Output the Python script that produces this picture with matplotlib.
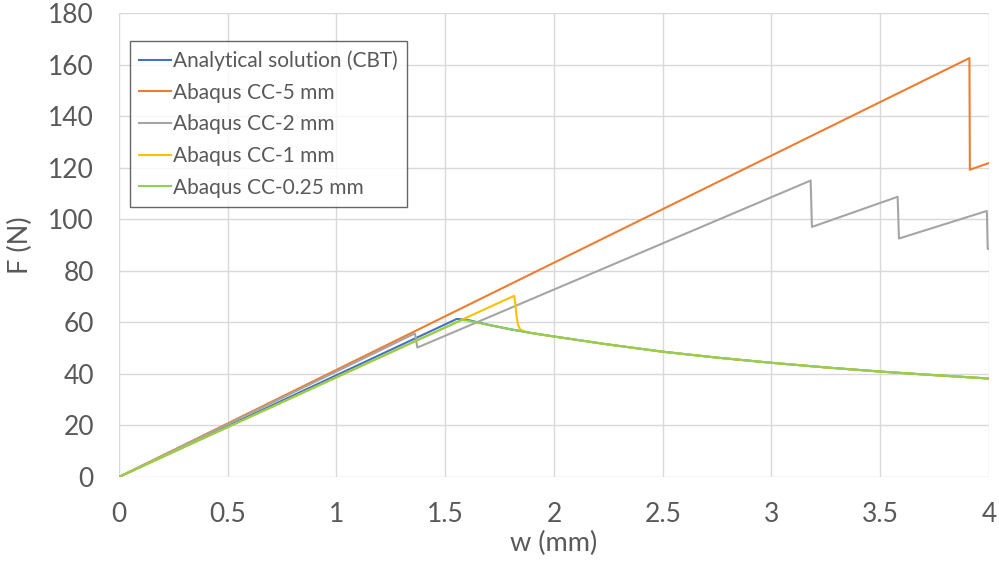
import matplotlib
matplotlib.use("Agg")
import matplotlib.pyplot as plt

plt.rcParams['font.family'] = ['Lato', 'DejaVu Sans']

# softening branch after crack growth
w_soft = [1.6, 1.7, 1.8, 1.9, 2.0, 2.25, 2.5, 2.75, 3.0, 3.25, 3.5, 3.75, 4.0]
F_soft = [61.0, 59.0, 57.3, 55.8, 54.5, 51.4, 48.6, 46.3, 44.3, 42.5, 40.9, 39.5, 38.2]

w_cbt = [0, 1.553] + w_soft
F_cbt = [0, 61.3] + F_soft

w_cc5 = [0, 3.91, 3.912, 4.0]
F_cc5 = [0, 162.5, 119.2, 121.8]

w_cc2 = [0, 1.361, 1.372, 3.18, 3.186, 3.58, 3.586, 3.99, 3.994, 4.0]
F_cc2 = [0, 55.7, 50.2, 115.0, 97.0, 108.7, 92.5, 103.2, 88.5, 88.5]

w_cc1 = [0, 1.817, 1.822, 1.828, 1.835, 1.845, 1.87, 1.9, 2.0, 2.25, 2.5, 2.75, 3.0, 3.25, 3.5, 3.75, 4.0]
F_cc1 = [0, 70.3, 67.5, 62.5, 59.0, 57.2, 56.3, 55.8, 54.5, 51.4, 48.6, 46.3, 44.3, 42.5, 40.9, 39.5, 38.2]

w_cc025 = [0, 1.576] + w_soft
F_cc025 = [0, 60.9] + [60.7] + F_soft[1:]

labels = ["Analytical solution (CBT)", "Abaqus CC-5 mm", "Abaqus CC-2 mm",
          "Abaqus CC-1 mm", "Abaqus CC-0.25 mm"]
colors = ["#4472C4", "#ED7D31", "#A5A5A5", "#FFC000", "#92D050"]

fig = plt.figure(figsize=(9.99, 5.69), dpi=100)
ax = fig.add_axes([0.119, 0.1617, 0.871, 0.8155])

series = [(w_cbt, F_cbt), (w_cc5, F_cc5), (w_cc2, F_cc2), (w_cc1, F_cc1), (w_cc025, F_cc025)]
for (w, F), lab, c in zip(series, labels, colors):
    ax.plot(w, F, color=c, lw=1.5, label=lab)

ax.set_xlim(0, 4)
ax.set_ylim(0, 180)
ax.set_xticks([0, 0.5, 1, 1.5, 2, 2.5, 3, 3.5, 4])
ax.set_xticklabels(["0", "0.5", "1", "1.5", "2", "2.5", "3", "3.5", "4"])
ax.set_yticks(range(0, 181, 20))
ax.grid(True, color="#D9D9D9", lw=1)
ax.set_axisbelow(True)
for s in ax.spines.values():
    s.set_visible(False)
ax.tick_params(length=0, labelsize=19, colors="#595959", pad=18)
ax.set_xlabel("w (mm)", fontsize=19.5, color="#595959", labelpad=3)
ax.set_ylabel("F (N)", fontsize=19.5, color="#595959", labelpad=11)

leg = ax.legend(loc="upper left", bbox_to_anchor=(130 / 999, 1 - 41 / 569),
                bbox_transform=fig.transFigure, fontsize=15, frameon=True,
                fancybox=False, handlelength=1.5, handletextpad=0.1,
                borderpad=0.45, labelspacing=0.56, borderaxespad=0)
leg.get_frame().set_edgecolor("#404040")
leg.get_frame().set_linewidth(1.0)
for t in leg.get_texts():
    t.set_color("#595959")

fig.savefig("out.png", dpi=100)
